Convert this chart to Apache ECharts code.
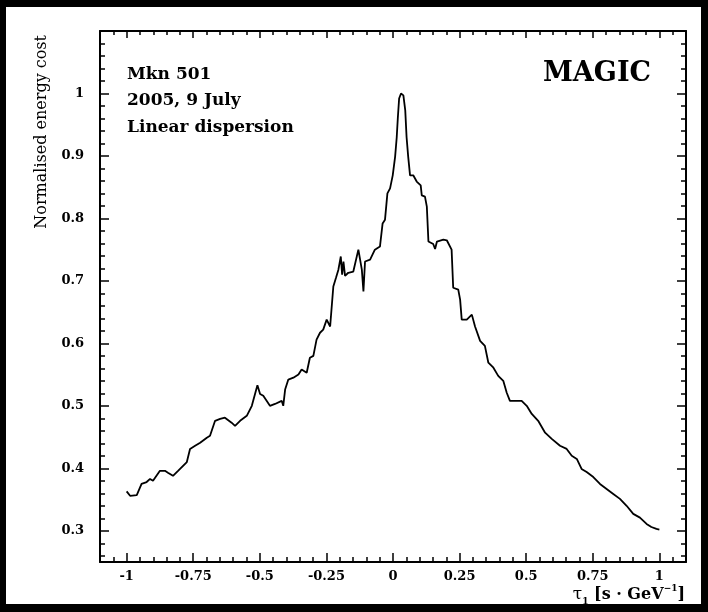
<!DOCTYPE html>
<html>
<head>
<meta charset="utf-8">
<script src="https://cdn.jsdelivr.net/npm/echarts@6/dist/echarts.min.js"></script>
<style>
  html, body { margin: 0; padding: 0; background: #000; }
  #chart { width: 708px; height: 612px; }
</style>
</head>
<body>
<div id="chart"></div>
<script>
// Dispersion parameter tau_1 [s/GeV]
const tau = [
  -1.000, -0.987, -0.962, -0.944, -0.925, -0.912, -0.901, -0.875, -0.856, -0.845,
  -0.826, -0.807, -0.774, -0.762, -0.743, -0.724, -0.699, -0.687, -0.668, -0.649,
  -0.631, -0.606, -0.593, -0.574, -0.549, -0.530, -0.518, -0.509, -0.499, -0.487,
  -0.462, -0.443, -0.418, -0.412, -0.405, -0.393, -0.374, -0.355, -0.343, -0.324,
  -0.312, -0.299, -0.287, -0.274, -0.262, -0.249, -0.236, -0.224, -0.214, -0.205,
  -0.196, -0.191, -0.186, -0.180, -0.168, -0.149, -0.130, -0.117, -0.111, -0.105,
  -0.086, -0.068, -0.049, -0.039, -0.030, -0.021, -0.011, -0.001, 0.008, 0.014,
  0.018, 0.023, 0.030, 0.039, 0.046, 0.051, 0.057, 0.064, 0.076, 0.089,
  0.104, 0.108, 0.120, 0.127, 0.133, 0.151, 0.158, 0.165, 0.189, 0.202,
  0.220, 0.226, 0.245, 0.252, 0.258, 0.277, 0.296, 0.308, 0.327, 0.345,
  0.358, 0.377, 0.395, 0.414, 0.427, 0.439, 0.464, 0.483, 0.502, 0.521,
  0.545, 0.571, 0.596, 0.627, 0.652, 0.671, 0.690, 0.708, 0.727, 0.752,
  0.777, 0.802, 0.827, 0.852, 0.877, 0.902, 0.927, 0.952, 0.970, 0.989,
  1.000
];

// Normalised energy cost at each tau_1
const cost = [
  0.363, 0.356, 0.357, 0.375, 0.378, 0.383, 0.380, 0.396, 0.396, 0.393,
  0.388, 0.396, 0.410, 0.431, 0.436, 0.441, 0.449, 0.452, 0.476, 0.479,
  0.481, 0.473, 0.468, 0.476, 0.484, 0.500, 0.519, 0.533, 0.519, 0.516,
  0.500, 0.503, 0.508, 0.500, 0.526, 0.542, 0.545, 0.550, 0.558, 0.553,
  0.577, 0.580, 0.606, 0.617, 0.622, 0.638, 0.627, 0.691, 0.705, 0.718,
  0.739, 0.710, 0.731, 0.708, 0.713, 0.715, 0.750, 0.718, 0.683, 0.731,
  0.734, 0.750, 0.755, 0.792, 0.798, 0.840, 0.848, 0.869, 0.899, 0.930,
  0.960, 0.992, 1.000, 0.997, 0.973, 0.930, 0.899, 0.869, 0.869, 0.859,
  0.853, 0.837, 0.835, 0.819, 0.763, 0.759, 0.751, 0.763, 0.766, 0.765,
  0.750, 0.689, 0.686, 0.670, 0.638, 0.638, 0.646, 0.627, 0.604, 0.596,
  0.569, 0.561, 0.548, 0.540, 0.521, 0.508, 0.508, 0.508, 0.500, 0.487,
  0.476, 0.457, 0.447, 0.436, 0.431, 0.420, 0.415, 0.399, 0.394, 0.386,
  0.375, 0.367, 0.359, 0.351, 0.340, 0.327, 0.321, 0.311, 0.306, 0.303,
  0.302
];

// Axis ranges and labelled tick positions
const xRange = [-1.1, 1.1];
const yRange = [0.25, 1.1];
const xMajorTicks = [-1, -0.75, -0.5, -0.25, 0, 0.25, 0.5, 0.75, 1];
const yMajorTicks = [0.3, 0.4, 0.5, 0.6, 0.7, 0.8, 0.9, 1];
const xMinorStep = 0.05;
const yMinorStep = 0.02;

function stepValues(from, to, step) {
  const out = [];
  const n = Math.round((to - from) / step);
  for (let i = 0; i <= n; i++) out.push(+(from + i * step).toFixed(4));
  return out;
}
const xMinorTicks = stepValues(-1.1, 1.1, xMinorStep);
const yMinorTicks = stepValues(0.26, 1.1, yMinorStep);

const SERIF = '"DejaVu Serif", "Liberation Serif", serif';
const frameLine = { show: true, onZero: false, lineStyle: { color: '#000', width: 2 } };
const noLine = { show: false, onZero: false };

function xAxisDef(position, ticks, len, withLine, withLabels) {
  return {
    type: 'value', position, min: xRange[0], max: xRange[1],
    axisLine: withLine ? frameLine : noLine,
    axisTick: { show: true, inside: true, length: len, customValues: ticks,
                lineStyle: { color: '#000', width: 1.5 } },
    axisLabel: withLabels ? {
      show: true, customValues: xMajorTicks, margin: 8, color: '#000',
      fontFamily: SERIF, fontWeight: 'bold', fontSize: 13
    } : { show: false },
    splitLine: { show: false }
  };
}
function yAxisDef(position, ticks, len, withLine, withLabels) {
  return {
    type: 'value', position, min: yRange[0], max: yRange[1],
    axisLine: withLine ? frameLine : noLine,
    axisTick: { show: true, inside: true, length: len, customValues: ticks,
                lineStyle: { color: '#000', width: 1.5 } },
    axisLabel: withLabels ? {
      show: true, customValues: yMajorTicks, margin: 16, color: '#000',
      fontFamily: SERIF, fontWeight: 'bold', fontSize: 13
    } : { show: false },
    splitLine: { show: false }
  };
}

const chart = echarts.init(document.getElementById('chart'), null, { renderer: 'canvas' });
chart.setOption({
  animation: false,
  backgroundColor: '#000',
  grid: { left: 100, top: 31, right: 22, bottom: 50, containLabel: false },
  xAxis: [
    xAxisDef('bottom', xMinorTicks, 5, true, true),
    xAxisDef('bottom', xMajorTicks, 9, false, false),
    xAxisDef('top', xMinorTicks, 4, true, false),
    xAxisDef('top', xMajorTicks, 7, false, false)
  ],
  yAxis: [
    yAxisDef('left', yMinorTicks, 5, true, true),
    yAxisDef('left', yMajorTicks, 9, false, false),
    yAxisDef('right', yMinorTicks, 5, true, false),
    yAxisDef('right', yMajorTicks, 9, false, false)
  ],
  graphic: [
    { type: 'rect', z: -10, silent: true,
      shape: { x: 6, y: 7, width: 695, height: 597 },
      style: { fill: '#fff' } },
    { type: 'text', x: 127, y: 75, z: 10,
      style: { text: 'Mkn 501', font: 'bold 17px ' + SERIF, fill: '#000', verticalAlign: 'middle' } },
    { type: 'text', x: 127, y: 101, z: 10,
      style: { text: '2005, 9 July', font: 'bold 17px ' + SERIF, fill: '#000', verticalAlign: 'middle' } },
    { type: 'text', x: 127, y: 128, z: 10,
      style: { text: 'Linear dispersion', font: 'bold 17px ' + SERIF, fill: '#000', verticalAlign: 'middle' } },
    { type: 'text', x: 651, y: 74, z: 10,
      style: { text: 'MAGIC', font: 'bold 27px ' + SERIF, fill: '#000', align: 'right', verticalAlign: 'middle' } },
    { type: 'text', x: 42, y: 35, z: 10, rotation: Math.PI / 2,
      style: { text: 'Normalised energy cost', font: '16px ' + SERIF, fill: '#000', align: 'right', verticalAlign: 'middle' } },
    { type: 'text', x: 685, y: 595, z: 10,
      style: {
        text: '{t|τ}{s|1}{b| [s · GeV}{p|−1}{b|]}',
        align: 'right', verticalAlign: 'middle', fill: '#000',
        rich: {
          t: { font: '17px ' + SERIF, fill: '#000', lineHeight: 22 },
          s: { font: 'bold 9px ' + SERIF, fill: '#000', lineHeight: 9, verticalAlign: 'bottom' },
          b: { font: 'bold 16px ' + SERIF, fill: '#000', lineHeight: 22 },
          p: { font: 'bold 9px ' + SERIF, fill: '#000', lineHeight: 9, verticalAlign: 'top' }
        }
      } }
  ],
  series: [{
    type: 'line',
    xAxisIndex: 0, yAxisIndex: 0,
    data: tau.map((t, i) => [t, cost[i]]),
    showSymbol: false,
    symbol: 'none',
    lineStyle: { color: '#000', width: 1.8 },
    z: 5
  }]
});
</script>
</body>
</html>
